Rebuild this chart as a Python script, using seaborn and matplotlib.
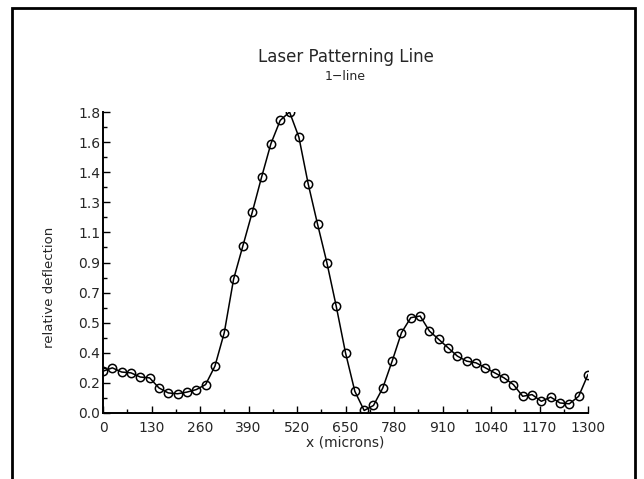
import matplotlib
matplotlib.use("Agg")
import matplotlib.pyplot as plt
from matplotlib.patches import Rectangle
from matplotlib.ticker import MultipleLocator
import numpy as np
import seaborn as sns

# --- data ---
x_microns = [0, 25, 50, 75, 100, 125, 150, 175, 200, 225, 250, 275, 300,
             325, 350, 375, 400, 425, 450, 475, 500, 525, 550, 575, 600,
             625, 650, 675, 700, 725, 750, 775, 800, 825, 850, 875, 900,
             925, 950, 975, 1000, 1025, 1050, 1075, 1100, 1125, 1150, 1175,
             1200, 1225, 1250, 1275, 1300]
deflection = [0.25, 0.27, 0.245, 0.24, 0.215, 0.21, 0.15, 0.12, 0.115, 0.125,
              0.14, 0.17, 0.28, 0.48, 0.80, 1.00, 1.20, 1.41, 1.61, 1.75,
              1.80, 1.65, 1.37, 1.13, 0.90, 0.64, 0.36, 0.13, 0.015, 0.045,
              0.15, 0.31, 0.48, 0.57, 0.58, 0.49, 0.44, 0.39, 0.34, 0.31,
              0.30, 0.27, 0.24, 0.21, 0.17, 0.10, 0.11, 0.07, 0.095, 0.06,
              0.055, 0.10, 0.23]

xtick_vals = [0, 130, 260, 390, 520, 650, 780, 910, 1040, 1170, 1300]
ytick_vals = [0.0, 0.18, 0.36, 0.54, 0.72, 0.90, 1.08, 1.26, 1.44, 1.62, 1.80]
ytick_labels = ["0.0", "0.2", "0.4", "0.5", "0.7", "0.9", "1.1", "1.3", "1.4", "1.6", "1.8"]

sns.set_style("ticks")
plt.rcParams["font.family"] = ["DejaVu Sans"]

W, H = 644, 479
fig = plt.figure(figsize=(W / 100, H / 100), dpi=100)
ax = fig.add_axes([103 / W, (H - 413) / H, 485 / W, 301 / H])

sns.lineplot(x=x_microns, y=deflection, ax=ax, color="black", linewidth=1.1,
             marker="o", markersize=6, markerfacecolor="none",
             markeredgecolor="black", markeredgewidth=1.1)

ax.set_xlim(0, 1300)
ax.set_ylim(0, 1.8)
ax.set_xticks(xtick_vals)
ax.set_xticklabels([str(v) for v in xtick_vals], fontsize=10)
ax.set_yticks(ytick_vals)
ax.set_yticklabels(ytick_labels, fontsize=10)
ax.xaxis.set_minor_locator(MultipleLocator(65))
ax.yaxis.set_minor_locator(MultipleLocator(0.09))
ax.tick_params(which="major", direction="in", length=5, width=1, color="black")
ax.tick_params(axis="x", which="major", pad=6)
ax.tick_params(axis="y", which="major", pad=2)
ax.tick_params(which="minor", direction="in", length=3, width=1, color="black")
sns.despine(ax=ax)
for s in ("left", "bottom"):
    ax.spines[s].set_linewidth(1.4)
    ax.spines[s].set_color("black")

ax.set_xlabel("x (microns)", fontsize=10, labelpad=0)
ax.set_ylabel("")
fig.text(50 / W, 1 - 287 / H, "relative deflection", rotation=90,
         ha="center", va="center", fontsize=9.5)

fig.text(345.5 / W, 1 - 57 / H, "Laser Patterning Line", ha="center",
         va="center", fontsize=12)
fig.text(345.5 / W, 1 - 76 / H, "1\u2212line", ha="center", va="center",
         fontsize=9)

fig.patches.append(Rectangle((12 / W, -0.05), (635 - 12) / W, 1.05 - 8 / H,
                             transform=fig.transFigure, fill=False,
                             linewidth=2, edgecolor="black"))

fig.savefig("out.png", dpi=100)
